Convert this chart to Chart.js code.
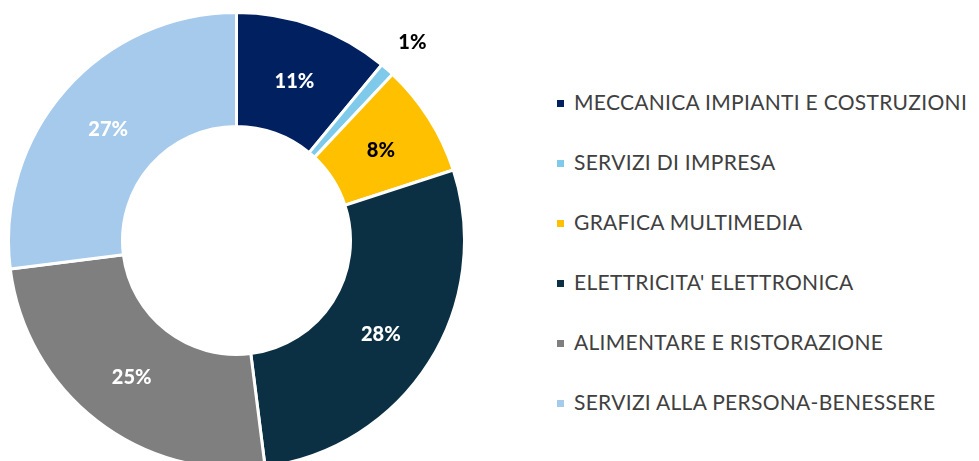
<!DOCTYPE html>
<html>
<head>
<meta charset="utf-8">
<script src="https://cdn.jsdelivr.net/npm/chart.js@4.4.1/dist/chart.umd.min.js"></script>
<style>
  html, body { margin: 0; padding: 0; background: #fff; overflow: hidden; }
  #wrap { position: relative; width: 979px; height: 461px; overflow: hidden; }
  #myChart { position: absolute; left: 7px; top: 11px; }
  #legend { position: absolute; left: 557px; top: 0; margin: 0; padding: 0; list-style: none; }
  #legend li {
    position: absolute; left: 0; white-space: nowrap;
    font-family: Lato, sans-serif; font-size: 21px; letter-spacing: 0.3px;
    color: #404040; line-height: 24px; height: 24px;
  }
  #legend li span.box { display: inline-block; width: 7px; height: 7px; margin-right: 10px; vertical-align: 3px; }
</style>
</head>
<body>
<div id="wrap">
  <canvas id="myChart" width="459" height="459"></canvas>
  <ul id="legend"></ul>
</div>
<script>
const categories = [
  'MECCANICA IMPIANTI E COSTRUZIONI',
  'SERVIZI DI IMPRESA',
  'GRAFICA MULTIMEDIA',
  "ELETTRICITA' ELETTRONICA",
  'ALIMENTARE E RISTORAZIONE',
  'SERVIZI ALLA PERSONA-BENESSERE'
];
const percentages = [11, 1, 8, 28, 25, 27];
const sliceColors = ['#002060', '#7fc9ea', '#ffc000', '#0c3043', '#7f7f7f', '#a6caec'];
const labelColors = ['#ffffff', '#000000', '#000000', '#ffffff', '#ffffff', '#ffffff'];
const outsideLabel = [false, true, false, false, false, false];

// legend
const legend = document.getElementById('legend');
categories.forEach((name, i) => {
  const li = document.createElement('li');
  li.style.top = (90 + i * 60) + 'px';
  li.innerHTML = '<span class="box" style="background:' + sliceColors[i] + '"></span>' + name;
  legend.appendChild(li);
});

const pctLabels = {
  id: 'pctLabels',
  afterDatasetsDraw(chart) {
    const c = chart.ctx;
    const meta = chart.getDatasetMeta(0);
    c.save();
    c.font = '900 20px Lato';
    c.textAlign = 'center';
    c.textBaseline = 'middle';
    meta.data.forEach((arc, i) => {
      let x, y;
      if (outsideLabel[i]) {
        const mid = (arc.startAngle + arc.endAngle) / 2;
        const r = arc.outerRadius + 38;
        x = arc.x + Math.cos(mid) * r;
        y = arc.y + Math.sin(mid) * r;
      } else {
        const p = arc.tooltipPosition();
        x = p.x; y = p.y;
      }
      c.fillStyle = labelColors[i];
      c.fillText(percentages[i] + '%', x, y + 2);
    });
    c.restore();
  }
};

const ctx = document.getElementById('myChart');

new Chart(ctx, {
  type: 'doughnut',
  data: {
    labels: categories,
    datasets: [{
      data: percentages,
      backgroundColor: sliceColors,
      borderColor: '#ffffff',
      borderWidth: 3
    }]
  },
  options: {
    responsive: false,
    animation: false,
    cutout: '50%',
    layout: { padding: 0 },
    plugins: {
      legend: { display: false },
      tooltip: { enabled: false }
    }
  },
  plugins: [pctLabels]
});
</script>
</body>
</html>
